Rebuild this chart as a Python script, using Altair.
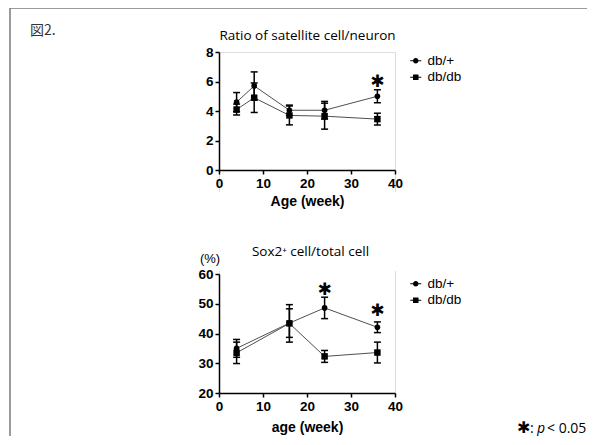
import altair as alt
import pandas as pd

# ---------------- data ----------------
groups = ["db/+", "db/db"]

weeks_top = [4, 8, 16, 24, 36]
plus_top = [4.6, 5.7, 4.05, 4.05, 5.0]
plus_top_err = [0.65, 0.95, 0.35, 0.6, 0.44]
dbdb_top = [4.1, 4.9, 3.7, 3.65, 3.45]
dbdb_top_err = [0.37, 1.0, 0.64, 0.88, 0.4]

weeks_bot = [4, 16, 24, 36]
plus_bot = [35.0, 43.5, 48.6, 42.1]
plus_bot_err = [3.0, 4.8, 3.6, 1.8]
dbdb_bot = [33.5, 43.4, 32.3, 33.6]
dbdb_bot_err = [3.6, 6.3, 2.0, 3.5]

star_top_weeks = [36]
star_top_vals = [5.95]
star_bot_weeks = [24, 36]
star_bot_vals = [54.6, 47.4]

x_ticks = [0, 10, 20, 30, 40]
y_ticks_top = [0, 2, 4, 6, 8]
y_ticks_bot = [20, 30, 40, 50, 60]

fig_label = ["図2."]
title_top = ["Ratio of satellite cell/neuron"]
title_bot = ["Sox2\u207a cell/total cell"]
xtitle_top = "Age (week)"
xtitle_bot = "age (week)"
ytitle_bot = ["(%)"]
foot_star = ["\u2731"]
foot_colon = [":"]
foot_p = ["p"]
foot_rest = ["< 0.05"]

# ---------------- layout / style ----------------
W, H = 176, 341
TOP_RANGE = [118, 0]
BOT_RANGE = [341, 222]
FONT = "Liberation Sans"
CIRCLE_PATH = ("M-1.6,-0.15H-0.6V0.15H-1.6Z M0.6,-0.15H1.6V0.15H0.6Z "
               "M0.8,0A0.8,0.8,0,1,1,-0.8,0A0.8,0.8,0,1,1,0.8,0Z")
SQUARE_PATH = ("M-1.6,-0.15H-0.6V0.15H-1.6Z M0.6,-0.15H1.6V0.15H0.6Z "
               "M-0.8,-0.8H0.8V0.8H-0.8Z")


def one(v):
    return pd.DataFrame({"t": v})


def make_panel(weeks, plus, plus_err, dbdb, dbdb_err, ydomain, yrange, yticks,
               xtitle, x_offset, xtitle_pad, star_w, star_v, legend_y):
    rows = []
    for w, m, e in zip(weeks, plus, plus_err):
        rows.append(dict(week=w, group="db/+", mean=m, lo=m - e, hi=m + e))
    for w, m, e in zip(weeks, dbdb, dbdb_err):
        rows.append(dict(week=w, group="db/db", mean=m, lo=m - e, hi=m + e))
    df = pd.DataFrame(rows)

    xscale = alt.Scale(domain=[0, 40], nice=False, zero=False)
    yscale = alt.Scale(domain=ydomain, range=yrange, nice=False, zero=False)
    common = dict(labelFont=FONT, labelFontSize=13.5, labelFontWeight="bold",
                  labelColor="black", tickSize=4, tickWidth=1.5, tickColor="black",
                  domainColor="black", domainWidth=1.5, grid=False, labelFlush=False,
                  labelOverlap=False, labelPadding=2, domain=True, ticks=True,
                  labels=True)
    xaxis = alt.Axis(values=x_ticks, title=xtitle, offset=x_offset, orient="bottom",
                     titleFont=FONT, titleFontSize=14, titleFontWeight="bold",
                     titleColor="black", titlePadding=xtitle_pad, **common)
    yaxis = alt.Axis(values=yticks, title=None, orient="left", **common)

    def X():
        return alt.X("week:Q", scale=xscale, axis=xaxis)

    def Y(f):
        return alt.Y(f + ":Q", scale=yscale, axis=yaxis)

    base = alt.Chart(df)
    lines = base.mark_line(color="#505050", strokeWidth=1).encode(
        x=X(), y=Y("mean"), detail="group:N")
    err = base.mark_rule(color="black", strokeWidth=1.5).encode(
        x=X(), y=Y("lo"), y2="hi:Q")
    cap_lo = base.mark_tick(color="black", orient="horizontal", size=7,
                            thickness=1.5, opacity=1).encode(x=X(), y=Y("lo"))
    cap_hi = base.mark_tick(color="black", orient="horizontal", size=7,
                            thickness=1.5, opacity=1).encode(x=X(), y=Y("hi"))
    circles = base.transform_filter(alt.datum.group == "db/+").mark_point(
        shape="circle", filled=True, size=32, color="black", opacity=1
    ).encode(x=X(), y=Y("mean"))
    squares = base.transform_filter(alt.datum.group == "db/db").mark_point(
        shape="square", filled=True, size=42, color="black", opacity=1
    ).encode(x=X(), y=Y("mean"))
    legend_layer = base.transform_filter("false").mark_point(
        filled=True, color="black", opacity=1
    ).encode(
        x=X(), y=Y("mean"),
        shape=alt.Shape("group:N",
                        scale=alt.Scale(domain=groups, range=[CIRCLE_PATH, SQUARE_PATH]),
                        legend=alt.Legend(orient="none", legendX=190, legendY=legend_y,
                                          title=None, labelFont=FONT, labelFontSize=13.5,
                                          labelColor="black", symbolSize=47,
                                          symbolFillColor="black",
                                          symbolStrokeWidth=0, labelOffset=5,
                                          rowPadding=1.5, padding=0)))
    stars = alt.Chart(pd.DataFrame({"week": star_w, "val": star_v})).mark_text(
        text="\u2731", font="DejaVu Sans", fontSize=17, color="black",
        baseline="middle", align="center"
    ).encode(x=X(), y=Y("val"))

    return alt.layer(lines, err, cap_lo, cap_hi, circles, squares, stars, legend_layer)


top = make_panel(weeks_top, plus_top, plus_top_err, dbdb_top, dbdb_top_err,
                 [0, 8], TOP_RANGE, y_ticks_top, xtitle_top, -(H - TOP_RANGE[0]), 5,
                 star_top_weeks, star_top_vals, 2)
bot = make_panel(weeks_bot, plus_bot, plus_bot_err, dbdb_bot, dbdb_bot_err,
                 [20, 60], BOT_RANGE, y_ticks_bot, xtitle_bot, 0, 8,
                 star_bot_weeks, star_bot_vals, 225)

# ---------------- annotations (pixel offsets from the plot frame origin) ----------------
border_top = alt.Chart(one([0])).mark_rule(color="#7a7a7a", strokeWidth=1.5).encode(
    x=alt.value(-209), x2=alt.value(368), y=alt.value(-44))
border_left = alt.Chart(one([0])).mark_rule(color="#7a7a7a", strokeWidth=1.5).encode(
    x=alt.value(-209), y=alt.value(-44), y2=alt.value(384))
gap_mask_l = alt.Chart(one([0])).mark_rule(color="white", strokeWidth=3).encode(
    x=alt.value(0), y=alt.value(140), y2=alt.value(219))
gap_mask_r = alt.Chart(one([0])).mark_rule(color="white", strokeWidth=3).encode(
    x=alt.value(W), y=alt.value(140), y2=alt.value(219))
pct_text = alt.Chart(one(ytitle_bot)).mark_text(
    align="center", baseline="middle", font=FONT, fontSize=13, color="black"
).encode(x=alt.value(-9), y=alt.value(207), text="t:N")
fig_text = alt.Chart(one(fig_label)).mark_text(
    align="left", baseline="middle", font="Noto Sans CJK JP", fontSize=14, color="#333"
).encode(x=alt.value(-189), y=alt.value(-21), text="t:N")
ttl_top = alt.Chart(one(title_top)).mark_text(
    align="center", baseline="middle", font="Open Sans", fontSize=13.5, color="black"
).encode(x=alt.value(88.5), y=alt.value(-16), text="t:N")
ttl_bot = alt.Chart(one(title_bot)).mark_text(
    align="center", baseline="middle", font="Open Sans", fontSize=13.5, color="black"
).encode(x=alt.value(91.5), y=alt.value(200), text="t:N")
f0 = alt.Chart(one(foot_star)).mark_text(
    align="left", baseline="alphabetic", font="DejaVu Sans", fontSize=16, color="black"
).encode(x=alt.value(298), y=alt.value(381), text="t:N")
f1 = alt.Chart(one(foot_colon)).mark_text(
    align="left", baseline="alphabetic", font="Open Sans", fontSize=14, color="black"
).encode(x=alt.value(311), y=alt.value(381), text="t:N")
f2 = alt.Chart(one(foot_p)).mark_text(
    align="left", baseline="alphabetic", font="Open Sans", fontSize=14,
    fontStyle="italic", color="black"
).encode(x=alt.value(318), y=alt.value(381), text="t:N")
f3 = alt.Chart(one(foot_rest)).mark_text(
    align="left", baseline="alphabetic", font="Open Sans", fontSize=14, color="black"
).encode(x=alt.value(328), y=alt.value(381), text="t:N")

chart = alt.layer(
    top, bot, border_top, border_left, gap_mask_l, gap_mask_r, pct_text, fig_text,
    ttl_top, ttl_bot, f0, f1, f2, f3
).resolve_scale(
    y="independent", shape="independent"
).resolve_axis(
    x="independent", y="independent"
).resolve_legend(
    shape="independent"
).properties(
    width=W, height=H,
    autosize=alt.AutoSizeParams(type="none"),
    padding={"left": 211, "top": 44, "right": 192, "bottom": 43},
).configure_view(stroke=None, strokeWidth=0).configure_axis(
    domain=False, ticks=False, labels=False, grid=False
).configure(background="white")

chart.save("out.html", embed_options={"renderer": "svg", "actions": False})
